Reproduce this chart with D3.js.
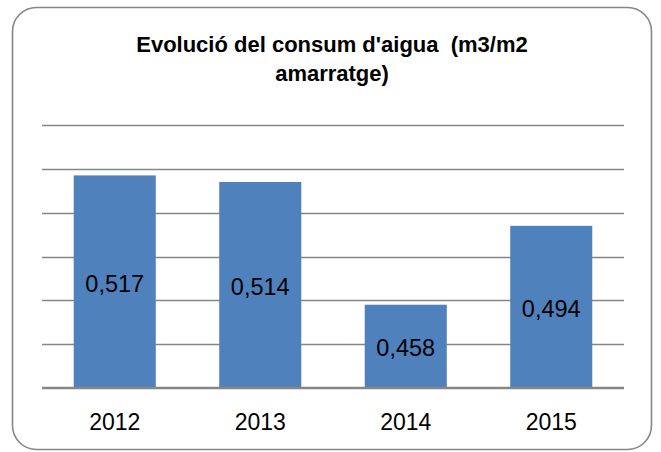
<!DOCTYPE html>
<html>
<head>
<meta charset="utf-8">
<script src="https://cdn.jsdelivr.net/npm/d3@7"></script>
<style>
  html, body { margin: 0; padding: 0; background: #fff; }
  svg { display: block; }
</style>
</head>
<body>
<svg id="chart" width="661" height="452"></svg>
<script>
// data
const years = ["2012", "2013", "2014", "2015"];
const consum = [0.517, 0.514, 0.458, 0.494];
const gridTicks = [0.42, 0.44, 0.46, 0.48, 0.50, 0.52, 0.54];
const titleLines = ["Evolució del consum d'aigua  (m3/m2", "amarratge)"];

const svg = d3.select("#chart");
const plot = { left: 42, right: 624, top: 125, bottom: 388 };

svg.append("rect")
    .attr("x", 12.5)
    .attr("y", 7.5)
    .attr("width", 639)
    .attr("height", 442)
    .attr("rx", 24)
    .attr("fill", "#fff")
    .attr("stroke", "#868686")
    .attr("stroke-width", 1.6);

const x = d3.scaleBand()
    .domain(years)
    .range([plot.left, plot.right])
    .paddingInner(0.436)
    .paddingOuter(0.218);

const y = d3.scaleLinear()
    .domain([0.42, 0.54])
    .range([plot.bottom, plot.top]);

// title
svg.append("text")
    .attr("x", 332)
    .attr("y", 52)
    .attr("text-anchor", "middle")
    .style("font-family", "'Liberation Sans', Arial, sans-serif")
    .style("font-weight", "bold")
    .style("font-size", "22px")
    .style("white-space", "pre")
    .selectAll("tspan")
    .data(titleLines)
    .enter()
    .append("tspan")
    .attr("x", 332)
    .attr("dy", (d, i) => i === 0 ? 0 : 29)
    .text(d => d);

// gridlines (no tick labels in the reference)
svg.append("g")
    .selectAll("line")
    .data(gridTicks.slice(1))
    .enter()
    .append("line")
    .attr("x1", plot.left)
    .attr("x2", plot.right)
    .attr("y1", d => Math.round(y(d)) + 0.5)
    .attr("y2", d => Math.round(y(d)) + 0.5)
    .attr("stroke", "#868686")
    .attr("stroke-width", 1.5);

// bars
svg.append("g")
    .selectAll("rect")
    .data(consum)
    .enter()
    .append("rect")
    .attr("x", (d, i) => x(years[i]))
    .attr("y", d => y(d))
    .attr("width", x.bandwidth())
    .attr("height", d => y(0.42) - y(d))
    .attr("fill", "#4F81BD");

// category axis
const xAxis = svg.append("g")
    .attr("transform", `translate(0, ${plot.bottom})`)
    .call(d3.axisBottom(x).tickSize(0).tickPadding(0));
xAxis.select(".domain")
    .attr("d", `M${plot.left},0H${plot.right}`)
    .attr("stroke", "#868686")
    .attr("stroke-width", 2.5);
xAxis.selectAll("text")
    .attr("y", 42)
    .attr("dy", null)
    .style("font-family", "'Liberation Sans', Arial, sans-serif")
    .style("font-size", "23px")
    .attr("fill", "#000");

// value labels, comma decimals
const fmt = d => d3.format(".3f")(d).replace(".", ",");
svg.append("g")
    .selectAll("text")
    .data(consum)
    .enter()
    .append("text")
    .attr("x", (d, i) => x(years[i]) + x.bandwidth() / 2)
    .attr("y", d => (y(d) + y(0.42)) / 2 + 10)
    .attr("text-anchor", "middle")
    .style("font-family", "'Liberation Sans', Arial, sans-serif")
    .style("font-size", "23.5px")
    .attr("fill", "#000")
    .text(fmt);
</script>
</body>
</html>
